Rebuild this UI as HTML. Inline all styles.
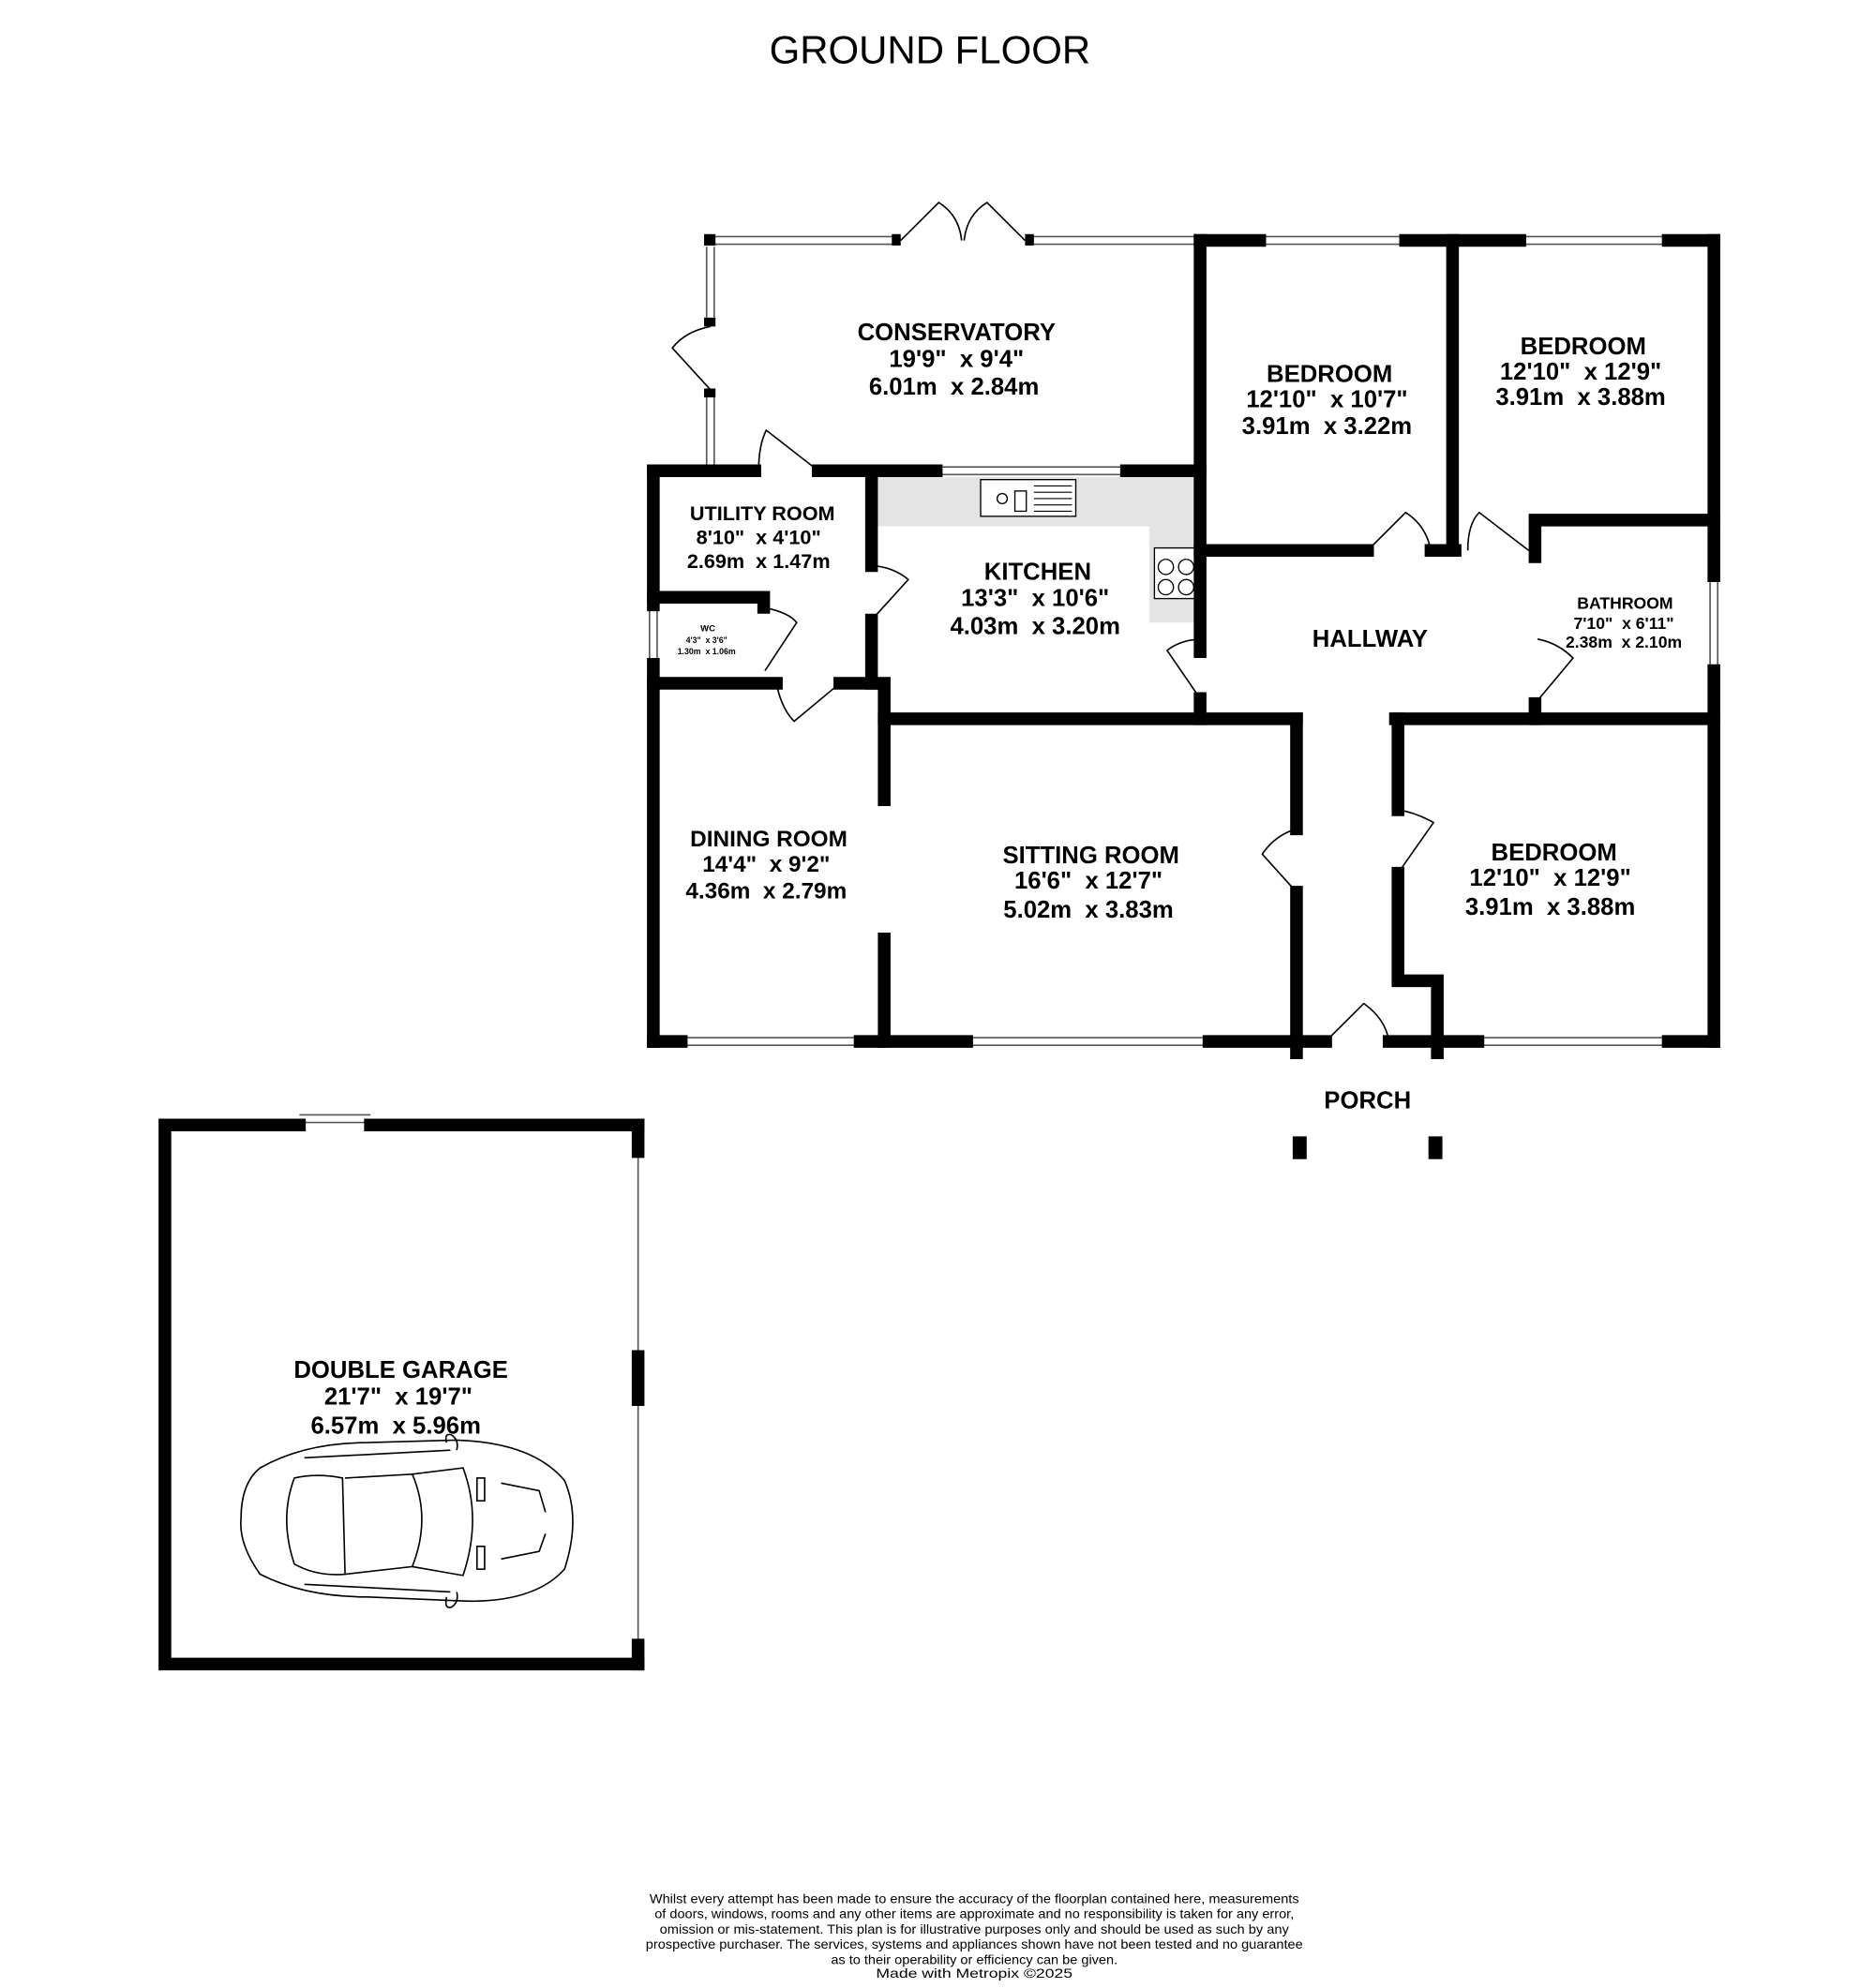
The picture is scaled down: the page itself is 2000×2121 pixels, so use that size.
<!DOCTYPE html>
<html><head><meta charset="utf-8"><style>
html,body{margin:0;padding:0;background:#fff}
svg{display:block}
text{font-family:"Liberation Sans",Arial,sans-serif;fill:#000;white-space:pre}
.b{font-weight:bold}
</style></head><body>
<svg width="2000" height="2121" viewBox="0 0 1478 1571" preserveAspectRatio="none" xmlns="http://www.w3.org/2000/svg" xml:space="preserve">
<rect width="1478" height="1571" fill="#fff"/>
<text x="733" y="50" font-size="31" text-anchor="middle">GROUND FLOOR</text>

<path d="M690 377 H946 V492 H906 V416 H690 Z" fill="#e4e4e4"/>
<rect x="773" y="379" width="75" height="29" fill="#fff" stroke="#000" stroke-width="1"/>
<circle cx="790" cy="394" r="4" fill="none" stroke="#000" stroke-width="1"/>
<rect x="800" y="388" width="9" height="16" fill="none" stroke="#000" stroke-width="1"/>
<path d="M815 384 H845 M815 389 H845 M815 394 H845 M815 399 H845 M815 404 H845" stroke="#000" stroke-width="0.8"/>
<rect x="910" y="433" width="34" height="40" fill="#fff" stroke="#000" stroke-width="1"/>
<circle cx="919" cy="448" r="6" fill="none" stroke="#000" stroke-width="1"/>
<circle cx="935" cy="448" r="6" fill="none" stroke="#000" stroke-width="1"/>
<circle cx="919" cy="464" r="6" fill="none" stroke="#000" stroke-width="1"/>
<circle cx="935" cy="464" r="6" fill="none" stroke="#000" stroke-width="1"/>

<g stroke="#555" stroke-width="1.2" fill="none">
<path d="M563 187 H705 M563 193 H705"/>
<path d="M810 187 H944 M810 193 H944"/>
<path d="M993 187 H1108 M993 193 H1108"/>
<path d="M1198 187 H1315 M1198 193 H1315"/>
<path d="M557 195 V255 M563 195 V255"/>
<path d="M557 310 V370 M563 310 V370"/>
<path d="M738 369 H888 M738 375 H888"/>
<path d="M1348 455 V530 M1354 455 V530"/>
<path d="M512 478 V525 M518 478 V525"/>
<path d="M537 820 H678 M537 826 H678"/>
<path d="M762 820 H953 M762 826 H953"/>
<path d="M1165 820 H1315 M1165 826 H1315"/>
<path d="M236 881 H292 M236 887 H292"/>
<path d="M503 910 V1300"/>
</g>

<g stroke="#000" stroke-width="10" fill="none" stroke-linecap="square">
<path d="M946 190 H993 M1108 190 H1198 M1315 190 H1351"/>
<path d="M1351 190 V455 M1351 530 V823"/>
<path d="M946 190 V515 M946 552 V568"/>
<path d="M1145 190 V435"/>
<path d="M946 435 H1078 M1128 435 H1147"/>
<path d="M1210 411 H1351 M1210 411 V440 M1210 556 V568"/>
<path d="M1100 568 H1351"/>
<path d="M697 568 H1022"/>
<path d="M1022 568 V655 M1022 705 V832"/>
<path d="M1102 568 V640 M1102 690 V775 H1133 V832"/>
<path d="M515 823 H537 M678 823 H762 M953 823 H1045 M1095 823 H1165 M1315 823 H1351"/>
<path d="M515 372 V478 M515 525 V823"/>
<path d="M515 372 H595 M645 372 H738 M888 372 H946"/>
<path d="M687 372 V447 M687 490 V540"/>
<path d="M515 472 H602 V480"/>
<path d="M515 540 H612 M662 540 H697 V632 M697 742 V823"/>
<path d="M130 889 H236 M292 889 H503 M130 889 V1315 H503"/>
<path d="M503 889 V910 M503 1072 V1106 M503 1300 V1315"/>
</g>
<g fill="#000">
<rect x="555" y="185" width="9" height="9"/>
<rect x="703" y="185" width="7" height="9"/>
<rect x="808" y="185" width="7" height="9"/>
<rect x="555" y="251" width="9" height="7"/>
<rect x="555" y="307" width="9" height="7"/>
<rect x="1019" y="898" width="11" height="18"/>
<rect x="1126" y="898" width="11" height="18"/>
</g>

<g stroke="#000" stroke-width="1.2" fill="none">
<path d="M710 190 L740 160 Q756 170 758 190 M808 190 L778 160 Q762 170 760 190"/>
<path d="M560 258 Q540 262 530 275 L560 308"/>
<path d="M1078 435 L1108 405 Q1124 415 1128 435"/>
<path d="M1157 435 Q1157 414 1166 405 L1205 435"/>
<path d="M1210 556 L1240 520 Q1228 508 1212 505"/>
<path d="M1022 705 L995 675 Q1005 660 1022 655"/>
<path d="M1102 690 L1130 650 Q1116 642 1102 640"/>
<path d="M1045 823 L1075 793 Q1092 805 1095 823"/>
<path d="M598 372 Q598 352 604 340 L645 372"/>
<path d="M687 490 L716 458 Q704 448 687 447"/>
<path d="M602 480 Q622 484 628 492 L603 530"/>
<path d="M612 540 Q616 560 626 570 L662 540"/>
<path d="M946 552 L920 514 Q930 506 946 505"/>
</g>

<g stroke="#000" stroke-width="1.2" fill="none">
<path d="M205 1160 Q240 1140 290 1140 L360 1138 Q420 1140 445 1170 Q458 1200 445 1240 Q420 1268 360 1265 L290 1262 Q240 1262 205 1244 Q188 1220 190 1200 Q190 1172 205 1160 Z"/>
<path d="M232 1168 Q220 1200 232 1236 Q250 1246 272 1244 L270 1168 Q250 1164 232 1168 Z"/>
<path d="M272 1168 L325 1165 Q340 1200 325 1238 L272 1244"/>
<path d="M325 1165 L365 1160 Q380 1200 365 1245 L325 1238"/>
<path d="M240 1152 L355 1146 M240 1252 L355 1258"/>
<path d="M395 1172 L425 1178 L430 1195 M395 1232 L425 1226 L430 1212"/>
<rect x="376" y="1168" width="6" height="18"/><rect x="376" y="1222" width="6" height="18"/>
<path d="M352 1140 Q350 1132 356 1134 Q362 1138 360 1146 M352 1262 Q350 1272 356 1270 Q362 1266 360 1258"/>
</g>

<g class="b" text-anchor="middle" font-size="19">
<text x="754" y="269" class="b">CONSERVATORY</text>
<text x="754" y="290" class="b">19'9"  x 9'4"</text>
<text x="752" y="312" class="b">6.01m  x 2.84m</text>
<text x="1048" y="302" class="b">BEDROOM</text>
<text x="1046" y="322" class="b">12'10"  x 10'7"</text>
<text x="1046" y="343" class="b">3.91m  x 3.22m</text>
<text x="1248" y="280" class="b">BEDROOM</text>
<text x="1246" y="300" class="b">12'10"  x 12'9"</text>
<text x="1246" y="320" class="b">3.91m  x 3.88m</text>
<text x="818" y="458" class="b">KITCHEN</text>
<text x="816" y="479" class="b">13'3"  x 10'6"</text>
<text x="816" y="501" class="b">4.03m  x 3.20m</text>
<text x="1080" y="511" class="b">HALLWAY</text>
<text x="606" y="669" class="b" font-size="18">DINING ROOM</text>
<text x="604" y="689" class="b" font-size="18">14'4"  x 9'2"</text>
<text x="604" y="710" class="b" font-size="18">4.36m  x 2.79m</text>
<text x="860" y="682" class="b">SITTING ROOM</text>
<text x="858" y="702" class="b">16'6"  x 12'7"</text>
<text x="858" y="725" class="b">5.02m  x 3.83m</text>
<text x="1225" y="680" class="b">BEDROOM</text>
<text x="1222" y="700" class="b">12'10"  x 12'9"</text>
<text x="1222" y="723" class="b">3.91m  x 3.88m</text>
<text x="1078" y="876" class="b">PORCH</text>
<text x="316" y="1089" class="b">DOUBLE GARAGE</text>
<text x="314" y="1110" class="b">21'7"  x 19'7"</text>
<text x="312" y="1133" class="b">6.57m  x 5.96m</text>
</g>
<g text-anchor="middle">
<text x="601" y="411" class="b" font-size="16">UTILITY ROOM</text>
<text x="598" y="430" class="b" font-size="16">8'10"  x 4'10"</text>
<text x="598" y="449" class="b" font-size="16">2.69m  x 1.47m</text>
<text x="1281" y="481" class="b" font-size="13">BATHROOM</text>
<text x="1280" y="497" class="b" font-size="13">7'10"  x 6'11"</text>
<text x="1280" y="512" class="b" font-size="13">2.38m  x 2.10m</text>
<text x="558" y="499" class="b" font-size="7">WC</text>
<text x="557" y="508" class="b" font-size="6.5">4'3"  x 3'6"</text>
<text x="557" y="517" class="b" font-size="6.5">1.30m  x 1.06m</text>
</g>
<g text-anchor="middle" font-size="10.5">
<text x="768" y="1504" textLength="512" lengthAdjust="spacingAndGlyphs">Whilst every attempt has been made to ensure the accuracy of the floorplan contained here, measurements</text>
<text x="768" y="1516" textLength="504" lengthAdjust="spacingAndGlyphs">of doors, windows, rooms and any other items are approximate and no responsibility is taken for any error,</text>
<text x="768" y="1528" textLength="496" lengthAdjust="spacingAndGlyphs">omission or mis-statement. This plan is for illustrative purposes only and should be used as such by any</text>
<text x="768" y="1540" textLength="518" lengthAdjust="spacingAndGlyphs">prospective purchaser. The services, systems and appliances shown have not been tested and no guarantee</text>
<text x="768" y="1552" textLength="226" lengthAdjust="spacingAndGlyphs">as to their operability or efficiency can be given.</text>
<text x="768" y="1563" textLength="155" lengthAdjust="spacingAndGlyphs">Made with Metropix ©2025</text>
</g>
</svg>
</body></html>
